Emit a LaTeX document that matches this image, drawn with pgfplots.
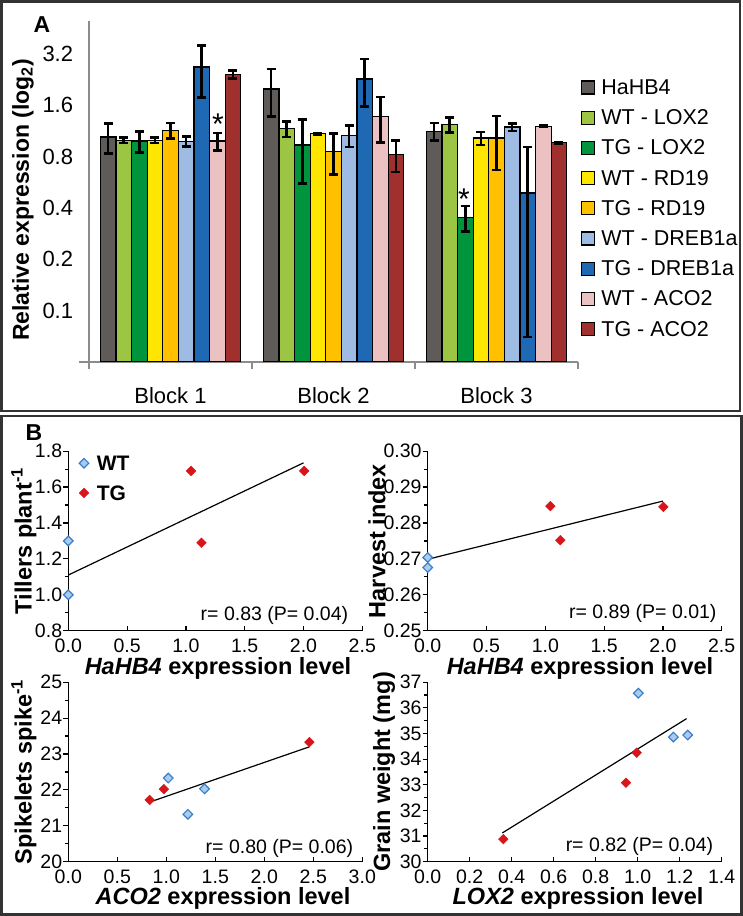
\documentclass[border=0pt]{standalone}
\usepackage{pgfplots}
\pgfplotsset{compat=1.18}
\usepackage{pgfplotstable}
\usepackage{fontspec}
\setmainfont{Liberation Sans}

\definecolor{cH}{HTML}{5F5B59}
\definecolor{cWL}{HTML}{9DC544}
\definecolor{cTL}{HTML}{00943C}
\definecolor{cWR}{HTML}{FFE600}
\definecolor{cTR}{HTML}{FFC000}
\definecolor{cWD}{HTML}{9EBCE3}
\definecolor{cTD}{HTML}{1F69B4}
\definecolor{cWA}{HTML}{EBC1C1}
\definecolor{cTA}{HTML}{A0302D}
\definecolor{axgray}{HTML}{8C8C8C}
\definecolor{framec}{HTML}{333333}
\definecolor{wtblue}{HTML}{3A7FC8}
\definecolor{wtfill}{HTML}{A9CBEE}
\definecolor{tgred}{HTML}{D7151B}

\pgfplotstableread{
x h he wl wle tl tle wr wre tr tre wd wde td tde wa wae ta tae
1 1.043 0.21 0.997 0.036 0.988 0.14 1.000 0.04 1.142 0.12 0.984 0.065 2.685 0.90 0.988 0.116 2.432 0.13
2 1.995 0.62 1.168 0.123 0.937 0.38 1.091 0.01 0.860 0.233 1.067 0.157 2.283 0.71 1.379 0.41 0.822 0.17
3 1.126 0.133 1.232 0.124 0.351 0.06 1.029 0.09 1.029 0.36 1.194 0.06 0.490 0.42 1.205 0.01 0.966 0.01
}\dataA

\pgfplotstableread{
x y
0 1.30
0 1.00
}\tilWT
\pgfplotstableread{
x y
1.044 1.69
1.132 1.29
2.006 1.69
}\tilTG
\pgfplotstableread{
x y
0 1.11
2.0 1.735
}\tilTR

\pgfplotstableread{
x y
0 0.2704
0 0.2676
}\hiWT
\pgfplotstableread{
x y
1.043 0.2847
1.128 0.2752
2.004 0.2845
}\hiTG
\pgfplotstableread{
x y
0 0.2699
2.0 0.2861
}\hiTR

\pgfplotstableread{
x y
1.02 22.33
1.22 21.32
1.39 22.03
}\spWT
\pgfplotstableread{
x y
0.83 21.72
0.975 22.02
2.46 23.33
}\spTG
\pgfplotstableread{
x y
0.83 21.66
2.46 23.20
}\spTR

\pgfplotstableread{
x y
1.003 36.57
1.170 34.86
1.238 34.94
}\grWT
\pgfplotstableread{
x y
0.995 34.25
0.944 33.08
0.360 30.88
}\grTG
\pgfplotstableread{
x y
0.355 31.12
1.233 35.58
}\grTR

\pgfplotsset{
  scat/.style={
    scale only axis, width=294pt, height=179.5pt, anchor=south west,
    axis lines*=left, axis line style={black, line width=1.2pt},
    tick style={black, line width=1.2pt},
    xtick align=inside, ytick align=outside,
    major tick length=5pt, minor tick length=3.5pt, minor y tick num=1,
    clip=false, scaled ticks=false, enlargelimits=false,
    /pgf/number format/assume math mode=true,
    tick label style={font=\fontsize{19.5}{23}\selectfont},
    xticklabel style={inner sep=0pt, yshift=-8pt},
    yticklabel style={inner sep=0pt, xshift=-1pt},
    xticklabel={\pgfmathprintnumber[fixed,fixed zerofill,precision=1]{\tick}},
  },
  wt/.style={only marks, mark=square*, mark size=3.4pt, mark options={rotate=45, draw=wtblue, fill=wtfill, line width=1.2pt}},
  tg/.style={only marks, mark=square*, mark size=3.4pt, mark options={rotate=45, draw=tgred, fill=tgred, line width=0.5pt}},
  trend/.style={black, line width=1.2pt, mark=none, forget plot},
}

\begin{document}
\begin{tikzpicture}[font=\fontsize{22}{26}\selectfont]
\useasboundingbox (0pt,0pt) rectangle (743pt,916pt);
\draw[framec, line width=2.5pt] (1.5pt,505pt) rectangle (740pt,914.5pt);
\draw[framec, line width=2.5pt] (1.5pt,1.5pt) rectangle (741.5pt,500pt);

% ---------------- Panel A ----------------
\begin{axis}[
  at={(89pt,554pt)}, anchor=south west,
  scale only axis, width=489pt, height=341pt,
  ymode=log, log basis y=2, log origin y=infty,
  ymin=0.05, ymax=5, xmin=0.5, xmax=3.5, enlargelimits=false,
  ybar=0pt, bar width=15.6pt,
  axis lines*=left,
  axis line style={draw=axgray, line width=1.3pt},
  x axis line style={shorten <=-10pt},
  xtick={1,2,3}, xticklabels={Block 1,Block 2,Block 3},
  major x tick style={draw=none},
  extra x ticks={0.5,1.5,2.5,3.5}, extra x tick labels={},
  extra x tick style={major tick length=7pt, tick align=outside, major x tick style={draw=axgray, line width=1.3pt}},
  ytick={0.1,0.2,0.4,0.8,1.6,3.2}, yticklabels={0.1,0.2,0.4,0.8,1.6,3.2},
  major y tick style={draw=none},
  tick label style={font=\fontsize{22}{26}\selectfont},
  xticklabel style={inner sep=0pt, anchor=north, yshift=-21pt},
  yticklabel style={inner sep=0pt, anchor=east, xshift=-15.7pt},
  legend cell align=left,
  legend style={at={(1.0061,0.829)}, anchor=north west, draw=none, fill=none, inner sep=0pt,
    font=\fontsize{21.5}{25}\selectfont, nodes={inner sep=0pt, text height=15pt, text depth=0pt},
    row sep=15.1pt, column sep=6.5pt},
  every axis plot post/.append style={draw=black, line width=1.2pt,
    legend image code/.code={\draw[##1, line width=1.2pt] (0pt,-7pt) rectangle (12.5pt,6pt);}},
  error bars/y dir=both, error bars/y explicit,
  error bars/error mark=-,
  error bars/error bar style={black, line width=2.6pt},
  error bars/error mark options={black, line width=2.6pt, mark size=4.5pt, rotate=90},
  legend entries={HaHB4,WT - LOX2,TG - LOX2,WT - RD19,TG - RD19,WT - DREB1a,TG - DREB1a,WT - ACO2,TG - ACO2},
]
\addplot[fill=cH]  table[x=x,y=h, y error=he]  {\dataA};
\addplot[fill=cWL] table[x=x,y=wl,y error=wle] {\dataA};
\addplot[fill=cTL] table[x=x,y=tl,y error=tle] {\dataA};
\addplot[fill=cWR] table[x=x,y=wr,y error=wre] {\dataA};
\addplot[fill=cTR] table[x=x,y=tr,y error=tre] {\dataA};
\addplot[fill=cWD] table[x=x,y=wd,y error=wde] {\dataA};
\addplot[fill=cTD] table[x=x,y=td,y error=tde] {\dataA};
\addplot[fill=cWA] table[x=x,y=wa,y error=wae] {\dataA};
\addplot[fill=cTA] table[x=x,y=ta,y error=tae] {\dataA};
\end{axis}
\node[anchor=base, font=\fontsize{30}{34}\selectfont] at (218pt,781.6pt) {*};
\node[anchor=base, font=\fontsize{30}{34}\selectfont] at (464pt,706.6pt) {*};
\node[rotate=90, font=\bfseries\fontsize{23}{27}\selectfont] at (23pt,716pt) {Relative expression (log\textsubscript{2})};
\node[font=\bfseries\fontsize{23}{27}\selectfont] at (42pt,891pt) {A};
\node[font=\bfseries\fontsize{23}{27}\selectfont] at (34pt,483pt) {B};

% ---------------- Panel B: tillers ----------------
\begin{axis}[scat, at={(68.3pt,285.3pt)},
  xmin=0, xmax=2.5, ymin=0.8, ymax=1.8,
  xtick={0,0.5,1,1.5,2,2.5}, ytick={0.8,1,1.2,1.4,1.6,1.8},
  yticklabel={\pgfmathprintnumber[fixed,fixed zerofill,precision=1]{\tick}},
  legend cell align=left,
  legend style={at={(0.0364,0.976)}, anchor=north west, draw=none, fill=none, inner sep=0pt,
    font=\bfseries\fontsize{21}{25}\selectfont, nodes={inner sep=0pt, text height=15pt, text depth=0pt},
    row sep=14.7pt, column sep=8pt},
  every axis plot post/.append style={legend image code/.code={\draw[##1] plot coordinates {(0pt,0pt)};}},
]
\addplot[trend] table {\tilTR};
\addplot[wt] table {\tilWT}; \addlegendentry{WT}
\addplot[tg] table {\tilTG}; \addlegendentry{TG}
\end{axis}

% ---------------- harvest index ----------------
\begin{axis}[scat, at={(427.7pt,285.3pt)},
  xmin=0, xmax=2.5, ymin=0.25, ymax=0.30,
  xtick={0,0.5,1,1.5,2,2.5}, ytick={0.25,0.26,0.27,0.28,0.29,0.30},
  yticklabel={\pgfmathprintnumber[fixed,fixed zerofill,precision=2]{\tick}},
]
\addplot[trend] table {\hiTR};
\addplot[wt] table {\hiWT};
\addplot[tg] table {\hiTG};
\end{axis}

% ---------------- spikelets ----------------
\begin{axis}[scat, at={(68.3pt,54.3pt)},
  xmin=0, xmax=3, ymin=20, ymax=25,
  xtick={0,0.5,1,1.5,2,2.5,3}, ytick={20,21,22,23,24,25},
  yticklabel={\pgfmathprintnumber[fixed,precision=0]{\tick}},
]
\addplot[trend] table {\spTR};
\addplot[wt] table {\spWT};
\addplot[tg] table {\spTG};
\end{axis}

% ---------------- grain weight ----------------
\begin{axis}[scat, at={(427.7pt,54.3pt)},
  xmin=0, xmax=1.4, ymin=30, ymax=37,
  xtick={0,0.2,0.4,0.6,0.8,1,1.2,1.4}, ytick={30,31,32,33,34,35,36,37},
  yticklabel={\pgfmathprintnumber[fixed,precision=0]{\tick}},
]
\addplot[trend] table {\grTR};
\addplot[wt] table {\grWT};
\addplot[tg] table {\grTG};
\end{axis}

% labels panel B
\begin{scope}[every node/.style={font=\bfseries\fontsize{23.5}{28}\selectfont}]
\node[rotate=90] at (24pt,375pt) {Tillers plant\textsuperscript{-1}};
\node[rotate=90] at (377pt,375pt) {Harvest index};
\node[rotate=90] at (24pt,144pt) {Spikelets spike\textsuperscript{-1}};
\node[rotate=90] at (384pt,144pt) {Grain weight (mg)};
\node[anchor=base] at (218pt,241pt) {\textit{HaHB4} expression level};
\node[anchor=base] at (580pt,241pt) {\textit{HaHB4} expression level};
\node[anchor=base] at (223pt,11pt) {\textit{ACO2} expression level};
\node[anchor=base] at (578pt,11pt) {\textit{LOX2} expression level};
\end{scope}
\begin{scope}[every node/.style={anchor=east, font=\fontsize{19.5}{23}\selectfont}]
\node at (351.7pt,301pt) {r= 0.83 (P= 0.04)};
\node at (720pt,303pt) {r= 0.89 (P= 0.01)};
\node at (356.7pt,67.7pt) {r= 0.80 (P= 0.06)};
\node at (716.7pt,69.3pt) {r= 0.82 (P= 0.04)};
\end{scope}
\end{tikzpicture}
\end{document}
